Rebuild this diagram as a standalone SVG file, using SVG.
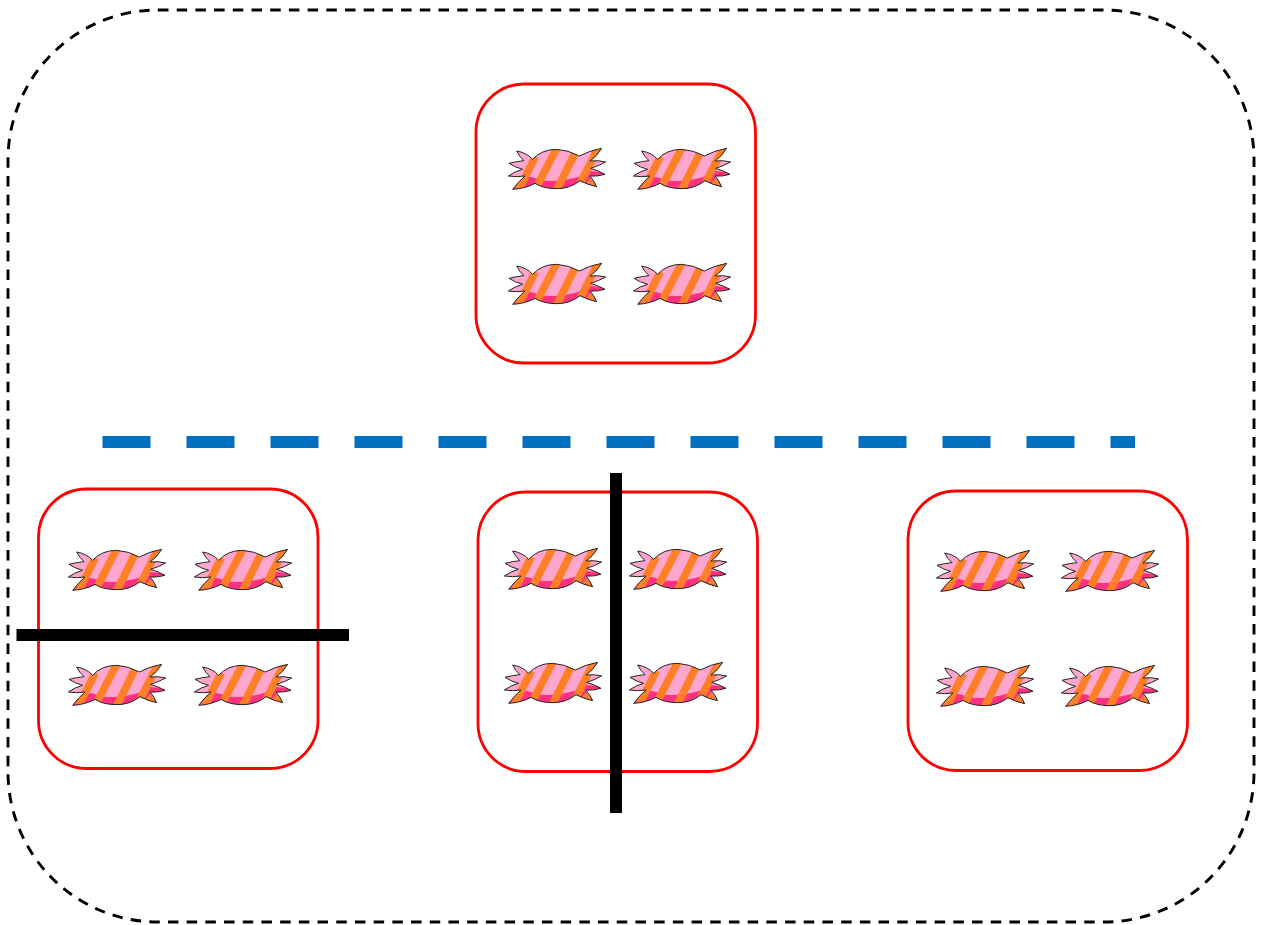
<svg xmlns="http://www.w3.org/2000/svg" xmlns:xlink="http://www.w3.org/1999/xlink" width="1262" height="925" viewBox="0 0 1262 925">
<style>
.box{fill:none;stroke:#ff0000;stroke-width:2.8}
.outer{fill:none;stroke:#000;stroke-width:2.9;stroke-dasharray:10.5 8.2}
.cut{stroke:#000;fill:none}
.guide{stroke:#0070c0;stroke-width:12;stroke-dasharray:48 36;fill:none}
</style>
<defs>
<clipPath id="cc"><path d="M50,33 Q80,38 98,58 Q125,28 170,28 Q205,30 238,48 Q268,32 305,25 Q290,50 270,63 Q295,60 317,66 Q295,78 272,85 Q295,92 315,103 Q292,110 270,108 Q282,122 290,140 Q262,134 240,122 Q210,146 170,146 Q130,146 105,130 Q75,146 38,148 Q55,125 75,108 Q50,112 25,108 Q45,94 68,88 Q45,82 27,70 Q50,64 72,62 Q58,50 50,33 Z"/></clipPath>
<g id="candy" transform="scale(.3333)">
<g clip-path="url(#cc)">
<rect x="0" y="0" width="340" height="180" fill="#ffa6cf"/>
<path d="M30,160 L68,112 Q90,106 118,120 Q175,130 245,108 Q255,100 265,92 L300,96 L330,100 L320,116 L270,112 L300,160 Z" fill="#ff3080"/>
<g stroke="#ff7f27" stroke-width="23" fill="none">
<path d="M106,50 L48,165"/>
<path d="M170,25 L105,150"/>
<path d="M232,25 L170,150"/>
<path d="M294,25 L238,135"/>
<path d="M322,15 L290,50"/>
<path d="M262,125 L295,150"/>
</g>
</g>
<path d="M50,33 Q80,38 98,58 Q125,28 170,28 Q205,30 238,48 Q268,32 305,25 Q290,50 270,63 Q295,60 317,66 Q295,78 272,85 Q295,92 315,103 Q292,110 270,108 Q282,122 290,140 Q262,134 240,122 Q210,146 170,146 Q130,146 105,130 Q75,146 38,148 Q55,125 75,108 Q50,112 25,108 Q45,94 68,88 Q45,82 27,70 Q50,64 72,62 Q58,50 50,33 Z" fill="none" stroke="#222" stroke-width="3"/>
</g>
</defs>
<rect width="1262" height="925" fill="#fff"/>
<g id="boundary"><rect class="outer" x="8" y="10" width="1246" height="912" rx="150" ry="150"/></g>
<g id="node-top">
<rect class="box" x="476" y="84" width="279.500" height="279" rx="48"/>
<use xlink:href="#candy" href="#candy" x="500" y="140"/>
<use xlink:href="#candy" href="#candy" x="625" y="140"/>
<use xlink:href="#candy" href="#candy" x="500" y="255"/>
<use xlink:href="#candy" href="#candy" x="625" y="255"/>
</g>
<g id="node-left">
<rect class="box" x="38.500" y="489" width="279.500" height="279.500" rx="48"/>
<use xlink:href="#candy" href="#candy" x="60" y="541"/>
<use xlink:href="#candy" href="#candy" x="186" y="541"/>
<use xlink:href="#candy" href="#candy" x="60" y="656"/>
<use xlink:href="#candy" href="#candy" x="186" y="656"/>
</g>
<g id="node-middle">
<rect class="box" x="478" y="492" width="279.500" height="279.500" rx="48"/>
<use xlink:href="#candy" href="#candy" x="496" y="540"/>
<use xlink:href="#candy" href="#candy" x="621" y="540"/>
<use xlink:href="#candy" href="#candy" x="496" y="654"/>
<use xlink:href="#candy" href="#candy" x="621" y="654"/>
</g>
<g id="node-right">
<rect class="box" x="908" y="491" width="279.500" height="279.500" rx="48"/>
<use xlink:href="#candy" href="#candy" x="928" y="542"/>
<use xlink:href="#candy" href="#candy" x="1053" y="542"/>
<use xlink:href="#candy" href="#candy" x="928" y="657"/>
<use xlink:href="#candy" href="#candy" x="1053" y="657"/>
</g>
<g id="connectors">
<path class="guide" d="M102.500,442 H1135"/>
<path class="cut" stroke-width="12" d="M16.500,635 H349"/>
<path class="cut" stroke-width="12" d="M616,473 V813"/>
</g>
</svg>
